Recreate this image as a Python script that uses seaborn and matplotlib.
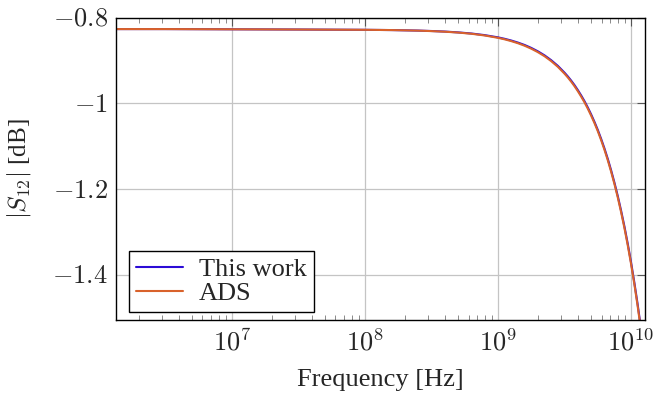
import numpy as np
import pandas as pd
import matplotlib
matplotlib.use("Agg")
import matplotlib.pyplot as plt
import matplotlib.ticker as mticker
import seaborn as sns

# log10 of frequency [Hz]
log_freq = [6.10, 6.5, 7.0, 7.5, 8.0, 8.1, 8.2, 8.3, 8.4, 8.5, 8.6, 8.7, 8.8, 8.9,
            9.0, 9.05, 9.1, 9.15, 9.2, 9.25, 9.3, 9.35, 9.4, 9.45, 9.5,
            9.525, 9.55, 9.575, 9.6, 9.625, 9.65, 9.675, 9.7, 9.725, 9.75, 9.775,
            9.8, 9.825, 9.85, 9.875, 9.9, 9.925, 9.95, 9.975, 10.0, 10.025,
            10.05, 10.075, 10.1]
ads = [-0.827, -0.827, -0.8275, -0.828, -0.8287, -0.829, -0.8293, -0.8299, -0.8306,
       -0.8317, -0.8331, -0.8351, -0.8379, -0.8419,
       -0.8474, -0.8509, -0.8551, -0.8600, -0.8658, -0.8727, -0.8808, -0.8903,
       -0.9017, -0.9150, -0.9309,
       -0.9398, -0.9495, -0.9601, -0.9717, -0.9842, -0.9977, -1.0125, -1.0286,
       -1.0460, -1.0648, -1.0856, -1.1080, -1.1324, -1.1590, -1.1878, -1.2190,
       -1.2532, -1.2900, -1.3304, -1.3740, -1.4216, -1.4730, -1.5294, -1.5910]
this_work = [-0.827, -0.827, -0.8275, -0.828, -0.8287, -0.829, -0.8293, -0.8299, -0.8305,
             -0.8315, -0.8328, -0.8347, -0.8373, -0.8411,
             -0.8463, -0.8497, -0.8537, -0.8585, -0.8641, -0.8709, -0.8789, -0.8883,
             -0.8996, -0.9128, -0.9286,
             -0.9374, -0.9471, -0.9576, -0.9692, -0.9816, -0.9950, -1.0098, -1.0258,
             -1.0432, -1.0620, -1.0827, -1.1050, -1.1293, -1.1559, -1.1846, -1.2157,
             -1.2498, -1.2865, -1.3268, -1.3703, -1.4178, -1.4691, -1.5254, -1.5870]
series_names = ["This work", "ADS"]
colors = ["#2b0bd6", "#d9622b"]
yticks = [-0.8, -1.0, -1.2, -1.4]
yticklabels = ["$-0.8$", "$-1$", "$-1.2$", "$-1.4$"]
xticks = [1e7, 1e8, 1e9, 1e10]
xticklabels = ["$10^{7}$", "$10^{8}$", "$10^{9}$", "$10^{10}$"]

freq = [10 ** v for v in log_freq]
df = pd.concat([
    pd.DataFrame({"Frequency": freq, "S12": this_work, "Series": series_names[0]}),
    pd.DataFrame({"Frequency": freq, "S12": ads, "Series": series_names[1]}),
])

sns.set_style("white")
plt.rcParams["font.family"] = ["Liberation Serif", "DejaVu Serif"]
plt.rcParams["mathtext.fontset"] = "cm"

fig = plt.figure(figsize=(6.53, 3.96), dpi=100)
ax = fig.add_axes([116 / 653, 1 - 320 / 396, 529 / 653, 302.5 / 396])

sns.lineplot(data=df, x="Frequency", y="S12", hue="Series", palette=colors,
             hue_order=series_names, ax=ax, linewidth=1.5, legend=True)

ax.set_xscale("log")
ax.set_xlim(10 ** 6.128, 10 ** 10.105)
ax.set_ylim(-1.505, -0.8)
ax.set_xticks(xticks)
ax.set_xticklabels(xticklabels)
ax.xaxis.set_minor_locator(mticker.LogLocator(base=10, subs=np.arange(2, 10), numticks=20))
ax.xaxis.set_minor_formatter(mticker.NullFormatter())
ax.set_yticks(yticks)
ax.set_yticklabels(yticklabels)

ax.grid(True, which="major", color="#c4c4c4", linewidth=0.9)
ax.set_axisbelow(True)
ax.tick_params(axis="both", which="major", direction="in", length=6, width=0.8,
               top=True, right=True, labelsize=19, color="#555555", pad=6)
ax.tick_params(axis="x", which="minor", direction="in", length=3.5, width=0.6,
               top=True, bottom=True, color="#777777")
for s in ax.spines.values():
    s.set_color("black")
    s.set_linewidth(1.0)

ax.set_xlabel("Frequency [Hz]", fontsize=19, labelpad=10)
ax.set_ylabel("$|S_{12}|$ [dB]", fontsize=18, labelpad=14)

leg = ax.legend(loc="lower left", bbox_to_anchor=(0.025, 0.028), fontsize=19,
                frameon=True, fancybox=False, edgecolor="black", framealpha=1,
                handlelength=1.8, borderpad=0.25, labelspacing=0.0, handletextpad=0.6,
                borderaxespad=0)
leg.get_frame().set_linewidth(1.0)

fig.savefig("out.png", dpi=100)
